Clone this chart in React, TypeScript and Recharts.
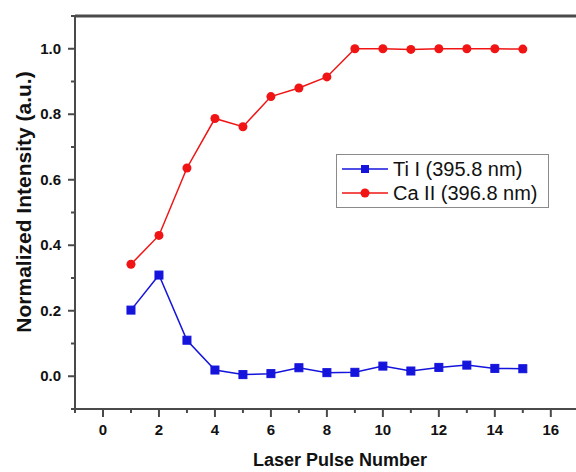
import { LineChart, Line, XAxis, YAxis, Legend, Label, ReferenceLine } from 'recharts';

const pulses = [1, 2, 3, 4, 5, 6, 7, 8, 9, 10, 11, 12, 13, 14, 15];
const tiI = [0.202, 0.309, 0.110, 0.019, 0.005, 0.008, 0.026, 0.011, 0.012, 0.031, 0.016, 0.027, 0.034, 0.024, 0.023];
const caII = [0.342, 0.43, 0.636, 0.787, 0.762, 0.854, 0.88, 0.914, 1.0, 1.0, 0.998, 1.0, 1.0, 1.0, 0.999];

const xTicks = [-1, 0, 1, 2, 3, 4, 5, 6, 7, 8, 9, 10, 11, 12, 13, 14, 15, 16];
const yTicks = [-0.1, 0, 0.1, 0.2, 0.3, 0.4, 0.5, 0.6, 0.7, 0.8, 0.9, 1.0, 1.1];

const seriesNames = ['Ti I (395.8 nm)', 'Ca II (396.8 nm)'];
const BLUE = '#1414dc';
const RED = '#f01414';
const AXIS = '#4a4a4a';
const FONT = '"Liberation Sans", Arial, sans-serif';
const Y_MIN = -0.1;
const Y_MAX = 1.1;

const data = pulses.map((p, i) => ({ pulse: p, ti: tiI[i], ca: caII[i] }));

function XTick(props: any) {
    const { x, y, payload } = props;
    const v = payload.value;
    const major = v % 2 === 0;
    return (
        <g>
            <line x1={x} x2={x} y1={y - 1} y2={y + (major ? 8 : 4)} stroke={AXIS} strokeWidth={2} />
            {major && (
                <text x={x} y={y + 26} textAnchor="middle" fontFamily={FONT} fontWeight="bold" fontSize={15} fill="#111">
                    {v}
                </text>
            )}
        </g>
    );
}

function YTick(props: any) {
    const { x, y, payload } = props;
    const v = payload.value;
    const major = Math.round(v * 10) % 2 === 0 && v >= 0 && v <= 1.0;
    return (
        <g>
            <line x1={x} x2={x - (major ? 7 : 4)} y1={y} y2={y} stroke={AXIS} strokeWidth={2} />
            {major && (
                <text x={x - 14} y={y + 5} textAnchor="end" fontFamily={FONT} fontWeight="bold" fontSize={15} fill="#111">
                    {v.toFixed(1)}
                </text>
            )}
        </g>
    );
}

function SquareDot(props: any) {
    const { cx, cy } = props;
    return <rect x={cx - 4} y={cy - 4} width={8} height={8} fill={BLUE} stroke={BLUE} />;
}

function renderLegend() {
    const rows = [
        { name: seriesNames[0], color: BLUE, square: true },
        { name: seriesNames[1], color: RED, square: false },
    ];
    return (
        <div style={{ border: '1.5px solid #8a8a8a', background: '#fff', padding: '2px 6px 2px 5px', width: 200 }}>
            {rows.map((r) => (
                <div key={r.name} style={{ display: 'flex', alignItems: 'center', height: 24 }}>
                    <svg width={46} height={14} style={{ marginRight: 5 }}>
                        <line x1={0} x2={46} y1={7} y2={7} stroke={r.color} strokeWidth={1.5} />
                        {r.square ? (
                            <rect x={19} y={3} width={8} height={8} fill={r.color} />
                        ) : (
                            <circle cx={23} cy={7} r={4.5} fill={r.color} />
                        )}
                    </svg>
                    <span style={{ fontFamily: FONT, fontSize: 20, color: '#111', whiteSpace: 'nowrap' }}>{r.name}</span>
                </div>
            ))}
        </div>
    );
}

export default function App() {
    return (
        <div style={{ position: 'absolute', left: 0, top: 0, width: 576, height: 472, background: '#fff' }}>
            <LineChart width={576} height={472} data={data} margin={{ top: 16, right: 0, bottom: 0, left: 0 }}>
                <XAxis
                    dataKey="pulse"
                    type="number"
                    domain={[-1, 16.9]}
                    ticks={xTicks}
                    interval={0}
                    height={63}
                    tickSize={0}
                    tickMargin={0}
                    tickLine={false}
                    tick={<XTick />}
                    axisLine={{ stroke: AXIS, strokeWidth: 2 }}
                >
                    <Label
                        content={() => (
                            <text x={340} y={466} textAnchor="middle" fontFamily={FONT} fontWeight="bold" fontSize={18} fill="#111">
                                Laser Pulse Number
                            </text>
                        )}
                    />
                </XAxis>
                <YAxis
                    type="number"
                    domain={[Y_MIN, Y_MAX]}
                    ticks={yTicks}
                    interval={0}
                    width={75}
                    tickSize={0}
                    tickMargin={0}
                    tickLine={false}
                    tick={<YTick />}
                    axisLine={{ stroke: AXIS, strokeWidth: 2 }}
                >
                    <Label
                        content={() => (
                            <text
                                x={23}
                                y={202}
                                transform="rotate(-90 23 202)"
                                textAnchor="middle"
                                dominantBaseline="central"
                                fontFamily={FONT}
                                fontWeight="bold"
                                fontSize={21}
                                fill="#111"
                            >
                                Normalized Intensity (a.u.)
                            </text>
                        )}
                    />
                </YAxis>
                {/* top frame line */}
                <ReferenceLine y={Y_MAX} stroke={AXIS} strokeWidth={3} />
                <Legend
                    layout="vertical"
                    align="center"
                    verticalAlign="middle"
                    content={renderLegend}
                    wrapperStyle={{ position: 'absolute', left: 336, top: 154, width: 214 }}
                />
                <Line
                    name={seriesNames[0]}
                    type="linear"
                    dataKey="ti"
                    stroke={BLUE}
                    strokeWidth={1.5}
                    dot={<SquareDot />}
                    isAnimationActive={false}
                />
                <Line
                    name={seriesNames[1]}
                    type="linear"
                    dataKey="ca"
                    stroke={RED}
                    strokeWidth={1.5}
                    dot={{ r: 4.5, fill: RED, stroke: RED, strokeWidth: 0 }}
                    isAnimationActive={false}
                />
            </LineChart>
        </div>
    );
}
